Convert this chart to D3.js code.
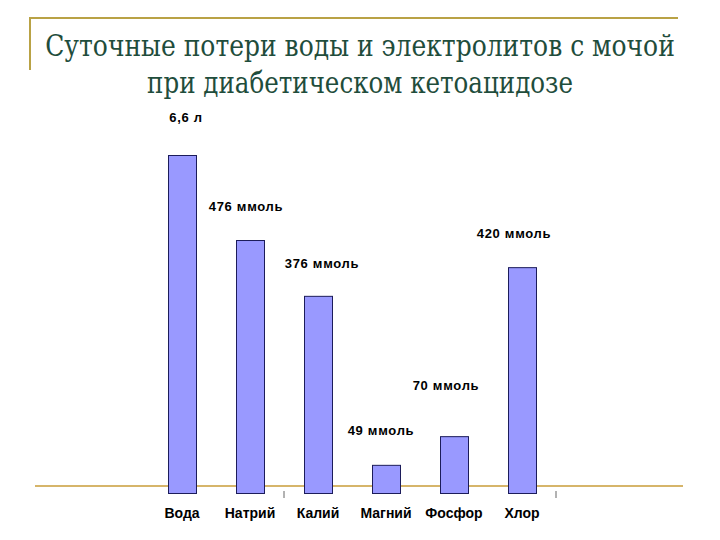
<!DOCTYPE html>
<html><head><meta charset="utf-8">
<script src="https://cdn.jsdelivr.net/npm/d3@7"></script>
<style>html,body{margin:0;padding:0;background:#fff;}
.ttl{font-family:"DejaVu Serif","Liberation Serif",serif;}
.lbl{font-family:"Liberation Sans",Arial,sans-serif;font-weight:bold;}
</style>
</head><body>
<svg id="chart" width="720" height="540"></svg>
<script>
// ---- data ----
const titleLines = ["Суточные потери воды и электролитов с мочой", "при диабетическом кетоацидозе"];
const categories = ["Вода", "Натрий", "Калий", "Магний", "Фосфор", "Хлор"];
// relative bar heights as drawn (water in litres; others roughly scaled)
const barHeights = [6.6, 4.94, 3.85, 0.55, 1.11, 4.41];
const valueLabels = ["6,6 л", "476 ммоль", "376 ммоль", "49 ммоль", "70 ммоль", "420 ммоль"];
// ---- layout ----
const labelNudge = [[4, 38], [-4, 34], [4, 33], [-5, 35], [-8, 51], [-8, 34]];

const svg = d3.select("#chart");
const W = 720, H = 540;
svg.append("rect").attr("width", W).attr("height", H).attr("fill", "#fff");

// decorative frame lines
svg.append("line").attr("x1", 29).attr("x2", 678).attr("y1", 18).attr("y2", 18)
  .attr("stroke", "#b9a245").attr("stroke-width", 2);
svg.append("line").attr("x1", 30).attr("x2", 30).attr("y1", 17).attr("y2", 70)
  .attr("stroke", "#b9a245").attr("stroke-width", 2);

// title (condensed horizontally to the widths seen in the reference)
const titleWidths = [630, 426];
svg.append("g").selectAll("text").data(titleLines).join("text")
  .attr("class", "ttl")
  .attr("x", 0).attr("y", 0)
  .attr("text-anchor", "middle")
  .attr("font-size", 29)
  .attr("fill", "#1f4d3c")
  .text(d => d)
  .each(function(d, i) {
    const w = this.getComputedTextLength();
    const sx = w > 0 ? titleWidths[i] / w : 1;
    d3.select(this).attr("transform", `translate(360,${56 + i * 37}) scale(${sx},1)`);
  });

// scales
const x = d3.scaleBand().domain(categories).range([148, 556]).padding(0);
const y = d3.scaleLinear().domain([0, 6.6]).range([493, 155]);
const barW = 28;

// bottom tan line
svg.append("line").attr("x1", 35).attr("x2", 683).attr("y1", 486).attr("y2", 486)
  .attr("stroke", "#d6b56a").attr("stroke-width", 2.2);

// category ticks (every other band boundary, as in the reference)
const tickPos = [x.range()[0] + 2 * x.bandwidth(), x.range()[0] + 6 * x.bandwidth()];
svg.append("g").selectAll("line").data(tickPos).join("line")
  .attr("x1", d => d).attr("x2", d => d).attr("y1", 491).attr("y2", 498)
  .attr("stroke", "#666").attr("stroke-width", 1);

// bars
svg.append("g").selectAll("rect").data(categories).join("rect")
  .attr("x", d => x(d) + (x.bandwidth() - barW) / 2 + 0.5)
  .attr("y", (d, i) => y(barHeights[i]) + 0.5)
  .attr("width", barW)
  .attr("height", (d, i) => y(0) - y(barHeights[i]))
  .attr("fill", "#9999ff")
  .attr("stroke", "#1c1c5a")
  .attr("stroke-width", 1);

// value labels
svg.append("g").selectAll("text").data(categories).join("text")
  .attr("class", "lbl")
  .attr("x", (d, i) => x(d) + x.bandwidth() / 2 + labelNudge[i][0])
  .attr("y", (d, i) => y(barHeights[i]) - labelNudge[i][1])
  .attr("dy", "0.36em")
  .attr("text-anchor", "middle")
  .attr("font-size", 13)
  .attr("letter-spacing", 0.7)
  .attr("fill", "#000")
  .text((d, i) => valueLabels[i]);

// category labels
svg.append("g").selectAll("text").data(categories).join("text")
  .attr("class", "lbl")
  .attr("x", d => x(d) + x.bandwidth() / 2)
  .attr("y", 513)
  .attr("dy", "0.36em")
  .attr("text-anchor", "middle")
  .attr("font-size", 14)
  .attr("fill", "#000")
  .text(d => d);
</script>
</body></html>
